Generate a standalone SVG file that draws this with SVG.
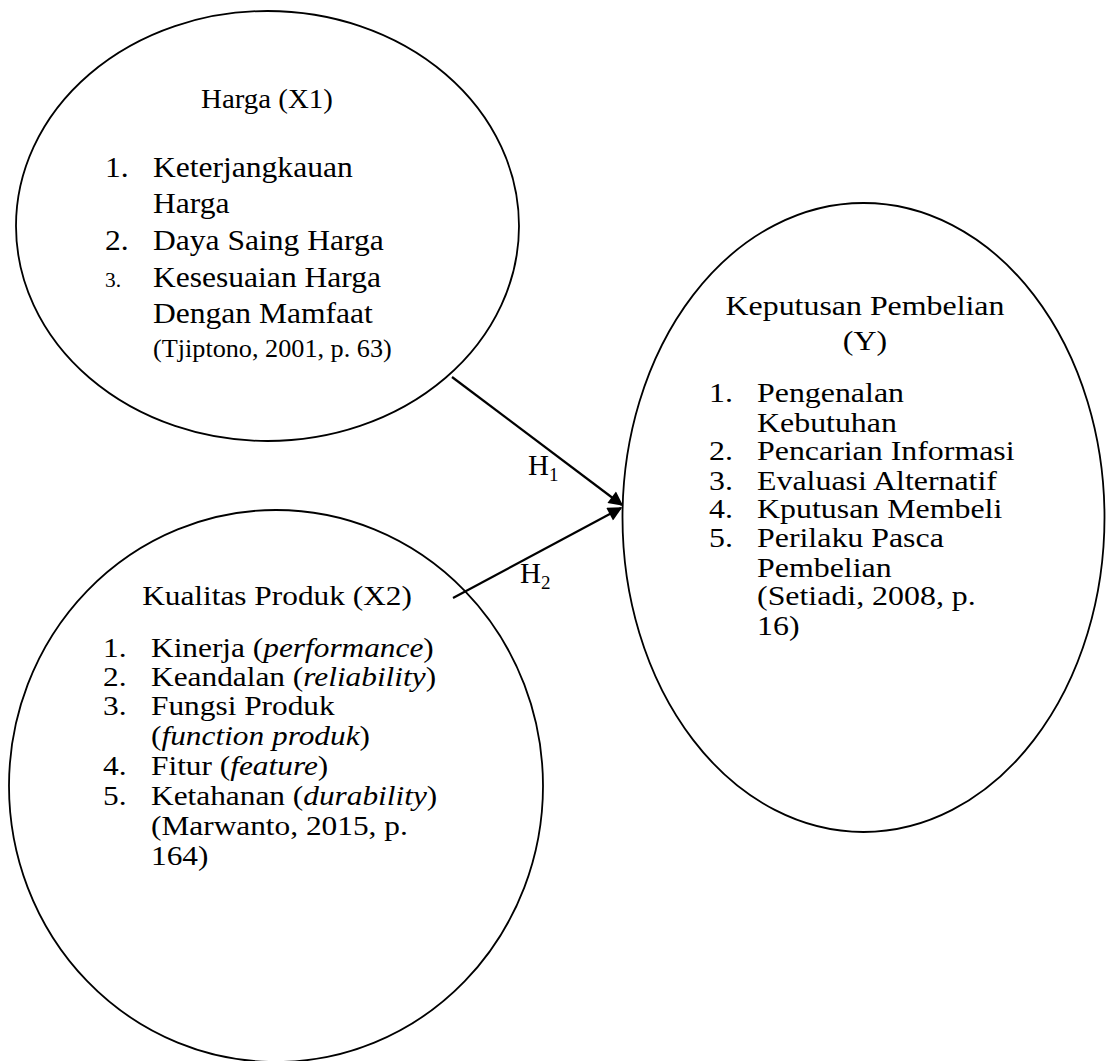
<svg xmlns="http://www.w3.org/2000/svg" width="1106" height="1061" viewBox="0 0 1106 1061">
<style>
.ell{fill:none;stroke:#000;stroke-width:1.8}
text{font-family:"Liberation Serif","Times New Roman",serif;fill:#000}
.c{text-anchor:middle}
.con{stroke:#000;stroke-width:2.2;fill:none}
</style>
<defs>
<marker id="ah" viewBox="0 0 10 10" refX="9" refY="5" markerWidth="7.5" markerHeight="6.5" orient="auto" markerUnits="strokeWidth">
<path d="M0,0 L10,5 L0,10 z" fill="#000"/>
</marker>
</defs>
<rect width="1106" height="1061" fill="#fff"/>
<g id="node-harga">
<ellipse class="ell" cx="267.5" cy="226" rx="251.5" ry="215"/>
<g transform="scale(1.07 1)" font-size="29.5">
<text class="c" x="249.5" y="108" font-size="27">Harga (X1)</text>
<text x="98.1" y="177">1.</text><text x="143" y="177">Keterjangkauan</text>
<text x="143" y="213">Harga</text>
<text x="98.1" y="250">2.</text><text x="143" y="250">Daya Saing Harga</text>
<text x="98.1" y="287" font-size="20">3.</text><text x="143" y="287">Kesesuaian Harga</text>
<text x="143" y="323">Dengan Mamfaat</text>
<text x="143" y="357" font-size="24.5">(Tjiptono, 2001, p. 63)</text>
</g>
</g>
<g id="node-kualitas">
<ellipse class="ell" cx="276" cy="786" rx="267" ry="276"/>
<g transform="scale(1.14 1)" font-size="27.5">
<text class="c" x="243" y="605">Kualitas Produk (X2)</text>
<text x="90.4" y="657">1.</text><text x="132.5" y="657">Kinerja (<tspan font-style="italic">performance</tspan>)</text>
<text x="90.4" y="686">2.</text><text x="132.5" y="686">Keandalan (<tspan font-style="italic">reliability</tspan>)</text>
<text x="90.4" y="715">3.</text><text x="132.5" y="715">Fungsi Produk</text>
<text x="132.5" y="745">(<tspan font-style="italic">function produk</tspan>)</text>
<text x="90.4" y="775">4.</text><text x="132.5" y="775">Fitur (<tspan font-style="italic">feature</tspan>)</text>
<text x="90.4" y="805">5.</text><text x="132.5" y="805">Ketahanan (<tspan font-style="italic">durability</tspan>)</text>
<text x="132.5" y="835">(Marwanto, 2015, p.</text>
<text x="132.5" y="865">164)</text>
</g>
</g>
<g id="node-keputusan">
<ellipse class="ell" cx="863.5" cy="517.5" rx="241" ry="314.5"/>
<g transform="scale(1.16 1)" font-size="27.5">
<text class="c" x="745.7" y="315">Keputusan Pembelian</text>
<text class="c" x="745.7" y="350">(Y)</text>
<text x="611.2" y="402">1.</text><text x="652.6" y="402">Pengenalan</text>
<text x="652.6" y="432">Kebutuhan</text>
<text x="611.2" y="460">2.</text><text x="652.6" y="460">Pencarian Informasi</text>
<text x="611.2" y="490">3.</text><text x="652.6" y="490">Evaluasi Alternatif</text>
<text x="611.2" y="518">4.</text><text x="652.6" y="518">Kputusan Membeli</text>
<text x="611.2" y="547">5.</text><text x="652.6" y="547">Perilaku Pasca</text>
<text x="652.6" y="577">Pembelian</text>
<text x="652.6" y="605">(Setiadi, 2008, p.</text>
<text x="652.6" y="635">16)</text>
</g>
</g>
<g id="connectors">
<line class="con" x1="452" y1="377" x2="622" y2="505" marker-end="url(#ah)"/>
<line class="con" x1="453" y1="598" x2="621" y2="508" marker-end="url(#ah)"/>
<text x="528" y="475" font-size="29">H<tspan font-size="19" dy="6">1</tspan></text>
<text x="520" y="583" font-size="29">H<tspan font-size="19" dy="6">2</tspan></text>
</g>
</svg>
